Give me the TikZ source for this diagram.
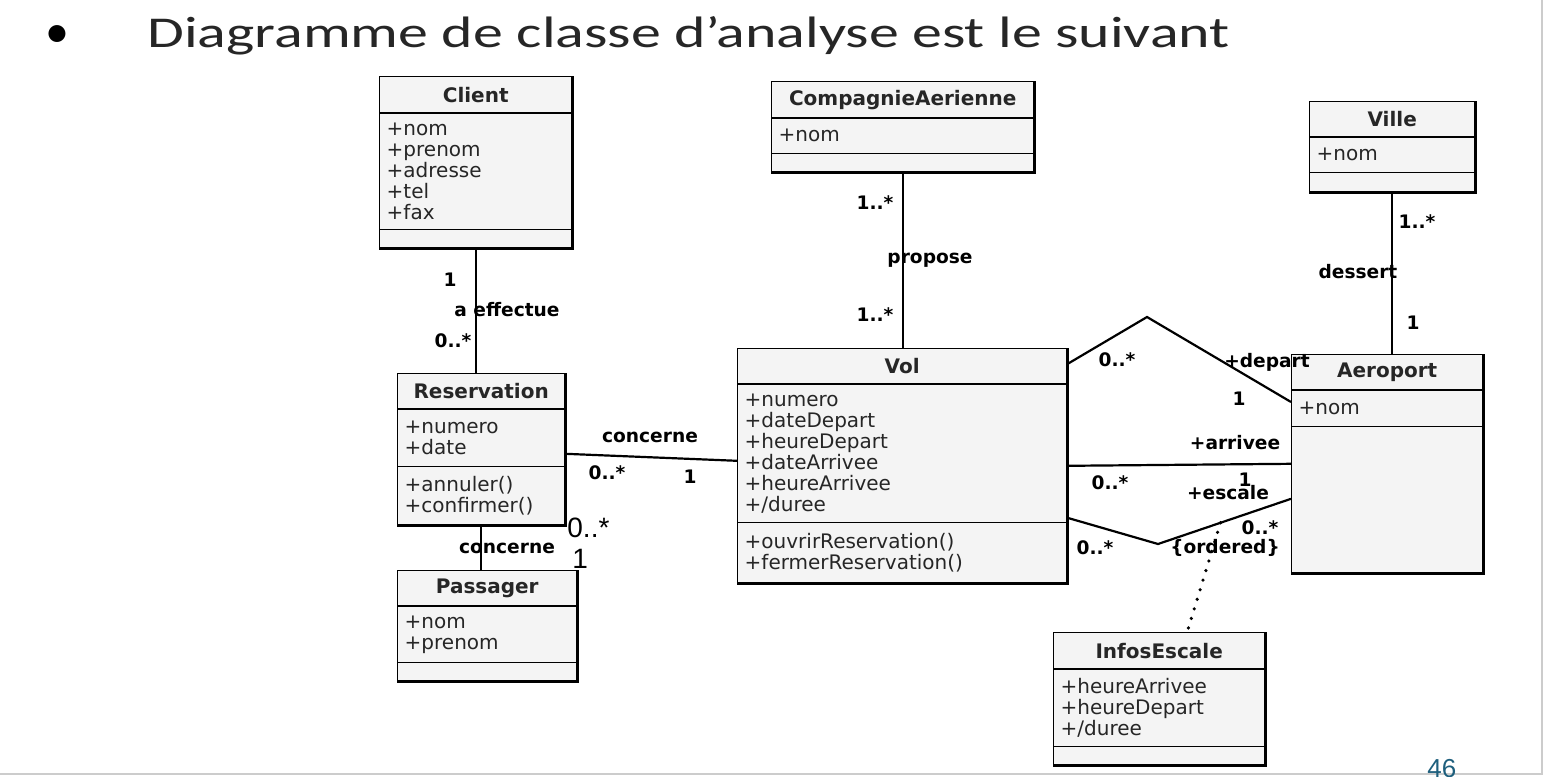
\documentclass[tikz,border=0pt]{standalone}
\usepackage{fontspec}
\newfontfamily\umlfont{DejaVu Sans}
\newfontfamily\titlefont[FakeStretch=1.36]{Carlito}
\newfontfamily\bulletfont{Carlito}
\newfontfamily\plainfont{Liberation Sans}
\usetikzlibrary{shapes.multipart}
\definecolor{boxgray}{RGB}{244,244,244}
\definecolor{inkgray}{RGB}{38,38,38}
\definecolor{pageteal}{RGB}{30,95,125}
\newcommand{\cpart}[3]{\parbox[b][#2][c]{#1}{#3}}

\begin{document}
\begin{tikzpicture}[x=0.5pt,y=-0.5pt,
    umlclass/.style={rectangle split,rectangle split parts=3,draw,fill=boxgray,line width=0.7pt,
        inner xsep=3.5pt,inner ysep=0pt,anchor=north west,text=inkgray,
        font=\umlfont\fontsize{10}{10.5}\selectfont},
    heavy/.style={line width=1.5pt},
    assoc/.style={line width=1.1pt},
    mult/.style={inner sep=0pt,font=\umlfont\bfseries\fontsize{9.3}{10}\selectfont}]

                \useasboundingbox (0,0) rectangle (1545,776);

                \node[anchor=base,inner sep=0pt,font=\bulletfont\fontsize{24}{26}\selectfont,text=black] (bullet) at (57,47) {•};

                \node[anchor=base west,inner sep=0pt,font=\titlefont\fontsize{22}{26}\selectfont,text=inkgray] (title) at (147,47) {Diagramme de classe d’analyse est le suivant};

                

                \node[umlclass] (client) at (379,76) {\cpart{89pt}{17.5pt}{\centering\bfseries Client}
                    \nodepart{two}\cpart{89pt}{57.5pt}{+nom\\+prenom\\+adresse\\+tel\\+fax}
                    \nodepart{three}\cpart{89pt}{8.5pt}{}};

                \node[umlclass] (reservation) at (397,373) {\cpart{76.5pt}{17pt}{\centering\bfseries Reservation}
                    \nodepart{two}\cpart{76.5pt}{28pt}{+numero\\+date}
                    \nodepart{three}\cpart{76.5pt}{28.5pt}{+annuler()\\+confirmer()}};

                \node[umlclass] (passager) at (397,570) {\cpart{82.5pt}{17pt}{\centering\bfseries Passager}
                    \nodepart{two}\cpart{82.5pt}{27.5pt}{+nom\\+prenom}
                    \nodepart{three}\cpart{82.5pt}{8.5pt}{}};

                \node[umlclass] (compagnie) at (771,81) {\cpart{124pt}{17.5pt}{\centering\bfseries CompagnieAerienne}
                    \nodepart{two}\cpart{124pt}{17pt}{+nom}
                    \nodepart{three}\cpart{124pt}{8.5pt}{}};

                \node[umlclass] (vol) at (737,348) {\cpart{157.5pt}{17pt}{\centering\bfseries Vol}
                    \nodepart{two}\cpart{157.5pt}{68.5pt}{+numero\\+dateDepart\\+heureDepart\\+dateArrivee\\+heureArrivee\\+/duree}
                    \nodepart{three}\cpart{157.5pt}{29.5pt}{+ouvrirReservation()\\+fermerReservation()}};

                \node[umlclass] (ville) at (1309,101) {\cpart{75.5pt}{17pt}{\centering\bfseries Ville}
                    \nodepart{two}\cpart{75.5pt}{17pt}{+nom}
                    \nodepart{three}\cpart{75.5pt}{9pt}{}};

                \node[umlclass] (aeroport) at (1291,354) {\cpart{88.5pt}{17pt}{\centering\bfseries Aeroport}
                    \nodepart{two}\cpart{88.5pt}{17.5pt}{+nom}
                    \nodepart{three}\cpart{88.5pt}{72.5pt}{}};

                \node[umlclass] (infos) at (1053,632) {\cpart{98.5pt}{17.5pt}{\centering\bfseries InfosEscale}
                    \nodepart{two}\cpart{98.5pt}{38pt}{+heureArrivee\\+heureDepart\\+/duree}
                    \nodepart{three}\cpart{98.5pt}{8.5pt}{}};

                

                \foreach \c in {client,reservation,passager,compagnie,vol,ville,aeroport,infos}
                    {
                    \draw[heavy] (\c.north east) -- (\c.south east) -- (\c.south west);
                    }

                

                \coordinate (deppeak) at (1147,317);

                \coordinate (escvalley) at (1158,544);

                \draw[assoc] (client.south) -- (client.south |- reservation.north);

                \draw[assoc] (reservation.south) -- (reservation.south |- passager.north);

                \draw[assoc] ([yshift=-2.25pt]reservation.east) -- ([yshift=2.5pt]vol.west);

                \draw[assoc] (compagnie.south) -- (compagnie.south |- vol.north);

                \draw[assoc] (ville.south) -- (ville.south |- aeroport.north);

                \draw[assoc] ([yshift=-8pt]vol.north east) -- (deppeak) -- ([yshift=-24pt]aeroport.north west);

                \draw[assoc] (vol.east) -- (aeroport.west);

                \draw[assoc] ([yshift=-26pt]vol.east) -- (escvalley) -- coordinate[pos=0.47] (escmid) ([yshift=-17.5pt]aeroport.west);

                \draw[line width=1.8pt,line cap=round,dash pattern=on 0pt off 5pt] (escmid) -- ([xshift=14pt]infos.north);

                

                \foreach \n/\x/\y/\t in {ma/450/280/1, mb/507/310/a effectue, mc/453/341/0..*,
                    md/650/437/concerne, me/607/473/0..*, mf/690/477/1, mg/507/548/concerne,
                    mh/875/203/1..*, mi/930/260/propose, mj/875/315/1..*,
                    mk/1417/222/1..*, ml/1358/272/dessert, mm/1413/323/1,
                    mn/1117/360/0..*, mo/1267/362/+depart, mp/1239/399/1,
                    mq/1235/443/+arrivee, mr/1110/483/0..*, ms/1245/480/1,
                    mt/1228/493/+escale, mu/1095/548/0..*, mv/1260/528/0..*, mw/1225/548/\{ordered\}}
                    {
                    \node[mult] (\n) at (\x,\y) {\t};
                    }

                \node[anchor=base west,inner sep=0pt,font=\plainfont\fontsize{14}{16}\selectfont] (pmany) at (567,537) {0..*};

                \node[anchor=base west,inner sep=0pt,font=\plainfont\fontsize{14}{16}\selectfont] (pone) at (572,568) {1};

                

                \draw[black!20,line width=1pt] (0,774) -- (1542,774) -- (1542,0);

                \node[anchor=base west,inner sep=0pt,font=\plainfont\fontsize{13}{15}\selectfont,text=pageteal] (pagenum) at (1427,777) {46};

            \end{tikzpicture}
\end{document}
